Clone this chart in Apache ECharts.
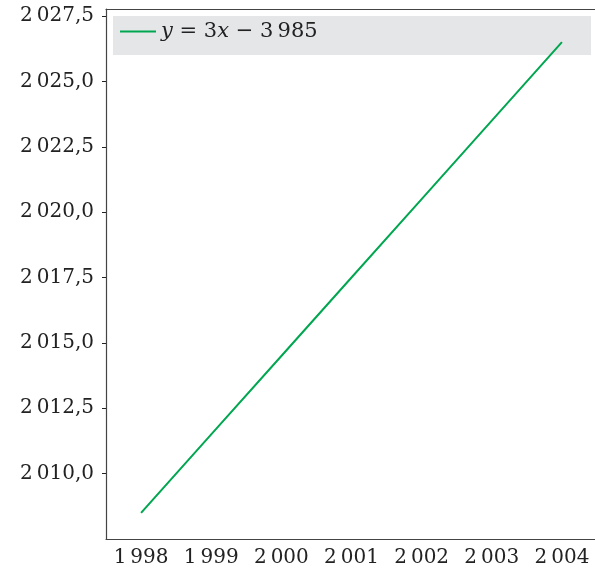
<!DOCTYPE html>
<html>
<head>
<meta charset="utf-8">
<script src="https://cdn.jsdelivr.net/npm/echarts@6/dist/echarts.min.js"></script>
<style>
  html, body { margin: 0; padding: 0; background: #fff; }
  #chart { width: 595px; height: 571px; }
</style>
</head>
<body>
<div id="chart"></div>
<script>
const years = ['1998', '1999', '2000', '2001', '2002', '2003', '2004']
const lineValues = [2008.5, 2011.5, 2014.5, 2017.5, 2020.5, 2023.5, 2026.5]
const yTicks = [2010, 2012.5, 2015, 2017.5, 2020, 2022.5, 2025, 2027.5]
const seriesName = 'y = 3x − 3 985'

const font = 'DejaVu Serif'
const green = '#00a650'

// 2027.5 -> "2 027,5"
function fmtNum(v, dec) {
  const s = v.toFixed(dec).split('.')
  const int = s[0].replace(/\B(?=(\d{3})+(?!\d))/g, '\u2009')
  return dec ? int + ',' + s[1] : int
}

const chart = echarts.init(document.getElementById('chart'), null, { renderer: 'canvas' })

const option = {
  animation: false,
  grid: { left: 106, width: 491, top: 9, bottom: 32, outerBoundsMode: 'none' },
  graphic: [{
    type: 'rect',
    shape: { x: 113, y: 16, width: 478, height: 39 },
    style: { fill: '#e5e6e8' },
    z: 1
  }],
  legend: {
    left: 120, top: 21,
    itemWidth: 36, itemHeight: 2, itemGap: 6,
    icon: 'rect',
    padding: 0,
    textStyle: {
      fontFamily: font, fontSize: 21, color: '#222',
      rich: {
        i: { fontFamily: font, fontStyle: 'italic', fontSize: 21, color: '#222' },
        r: { fontFamily: font, fontSize: 21, color: '#222' }
      }
    },
    formatter: () => '{i|y} {r|= 3}{i|x}{r| − 3\u2009985}',
    data: [seriesName],
    z: 5
  },
  xAxis: [{
    type: 'category',
    data: years,
    boundaryGap: true,
    axisLine: { lineStyle: { color: '#444', width: 1.2 } },
    axisTick: { alignWithLabel: true, interval: 0, length: 4, lineStyle: { color: '#222' } },
    axisLabel: {
      fontFamily: font, fontSize: 20, color: '#222', margin: 9,
      interval: 0, hideOverlap: false,
      formatter: v => fmtNum(Number(v), 0)
    },
    splitLine: { show: false }
  }, {
    type: 'category',
    position: 'top',
    data: years,
    axisLine: { lineStyle: { color: '#444', width: 1.2 } },
    axisTick: { show: false },
    axisLabel: { show: false }
  }],
  yAxis: {
    type: 'value',
    min: 2007.5,
    max: 2027.77,
    axisLine: { show: true, lineStyle: { color: '#444', width: 1.2 } },
    axisTick: { show: true, length: 4, customValues: yTicks, lineStyle: { color: '#222' } },
    axisLabel: {
      fontFamily: font, fontSize: 20, color: '#222', margin: 12,
      customValues: yTicks,
      formatter: v => fmtNum(v, 1)
    },
    splitLine: { show: false }
  },
  series: [{
    name: seriesName,
    type: 'line',
    data: lineValues,
    showSymbol: false,
    symbol: 'none',
    lineStyle: { color: green, width: 2 },
    itemStyle: { color: green },
    z: 3
  }]
}

chart.setOption(option)
</script>
</body>
</html>
